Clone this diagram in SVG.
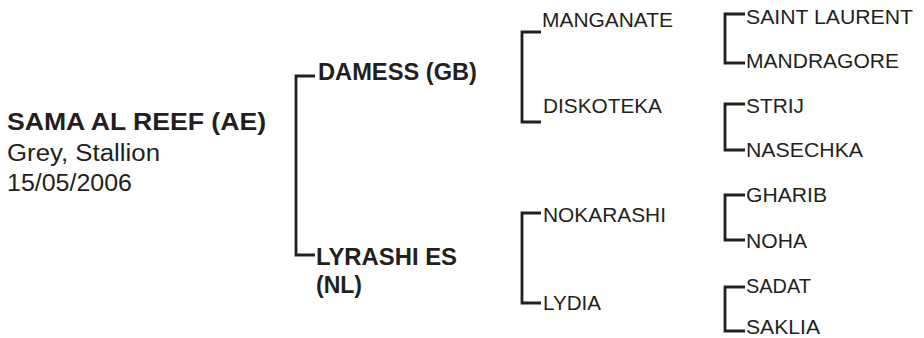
<svg xmlns="http://www.w3.org/2000/svg" width="924" height="338" viewBox="0 0 924 338">
<style>
.t{font-family:"Liberation Sans",Arial,sans-serif;fill:#231f20;}
.b{font-weight:bold;font-size:23px;}
.r{font-size:20px;}
.h{font-size:23.5px;}
.c{fill:none;stroke:#231f20;stroke-width:2.8;stroke-linejoin:miter;stroke-linecap:butt;}
</style>
<rect width="924" height="338" fill="#ffffff"/>
<g id="connectors">
<path class="c" d="M315,76 H296 V255 H315"/>
<path class="c" d="M541,32 H522 V122 H541"/>
<path class="c" d="M541,213 H522 V303 H541"/>
<path class="c" d="M745,14 H725 V63 H745"/>
<path class="c" d="M745,104 H725 V150 H745"/>
<path class="c" d="M745,195 H725 V240 H745"/>
<path class="c" d="M745,287 H725 V331 H745"/>
</g>
<g id="subject">
<text class="t b h" x="7" y="130" textLength="259" lengthAdjust="spacingAndGlyphs">SAMA AL REEF (AE)</text>
<text class="t h" x="7" y="161" textLength="153" lengthAdjust="spacingAndGlyphs">Grey, Stallion</text>
<text class="t h" x="7" y="191" textLength="125" lengthAdjust="spacingAndGlyphs">15/05/2006</text>
</g>
<g id="sire">
<text class="t b" x="318" y="80" textLength="159" lengthAdjust="spacingAndGlyphs">DAMESS (GB)</text>
</g>
<g id="dam">
<text class="t b" x="316" y="265" textLength="141" lengthAdjust="spacingAndGlyphs">LYRASHI ES</text>
<text class="t b" x="316" y="293" textLength="46" lengthAdjust="spacingAndGlyphs">(NL)</text>
</g>
<g id="manganate"><text class="t r" x="542" y="27" textLength="131" lengthAdjust="spacingAndGlyphs">MANGANATE</text></g>
<g id="diskoteka"><text class="t r" x="543" y="113" textLength="119" lengthAdjust="spacingAndGlyphs">DISKOTEKA</text></g>
<g id="nokarashi"><text class="t r" x="543" y="222" textLength="123" lengthAdjust="spacingAndGlyphs">NOKARASHI</text></g>
<g id="lydia"><text class="t r" x="543" y="310" textLength="58" lengthAdjust="spacingAndGlyphs">LYDIA</text></g>
<g id="saint-laurent"><text class="t r" x="746" y="24" textLength="167" lengthAdjust="spacingAndGlyphs">SAINT LAURENT</text></g>
<g id="mandragore"><text class="t r" x="746" y="68" textLength="153" lengthAdjust="spacingAndGlyphs">MANDRAGORE</text></g>
<g id="strij"><text class="t r" x="746" y="113" textLength="58" lengthAdjust="spacingAndGlyphs">STRIJ</text></g>
<g id="nasechka"><text class="t r" x="746" y="157" textLength="117" lengthAdjust="spacingAndGlyphs">NASECHKA</text></g>
<g id="gharib"><text class="t r" x="746" y="202" textLength="81" lengthAdjust="spacingAndGlyphs">GHARIB</text></g>
<g id="noha"><text class="t r" x="746" y="248" textLength="61" lengthAdjust="spacingAndGlyphs">NOHA</text></g>
<g id="sadat"><text class="t r" x="746" y="293" textLength="65" lengthAdjust="spacingAndGlyphs">SADAT</text></g>
<g id="saklia"><text class="t r" x="746" y="334" textLength="74" lengthAdjust="spacingAndGlyphs">SAKLIA</text></g>
</svg>
